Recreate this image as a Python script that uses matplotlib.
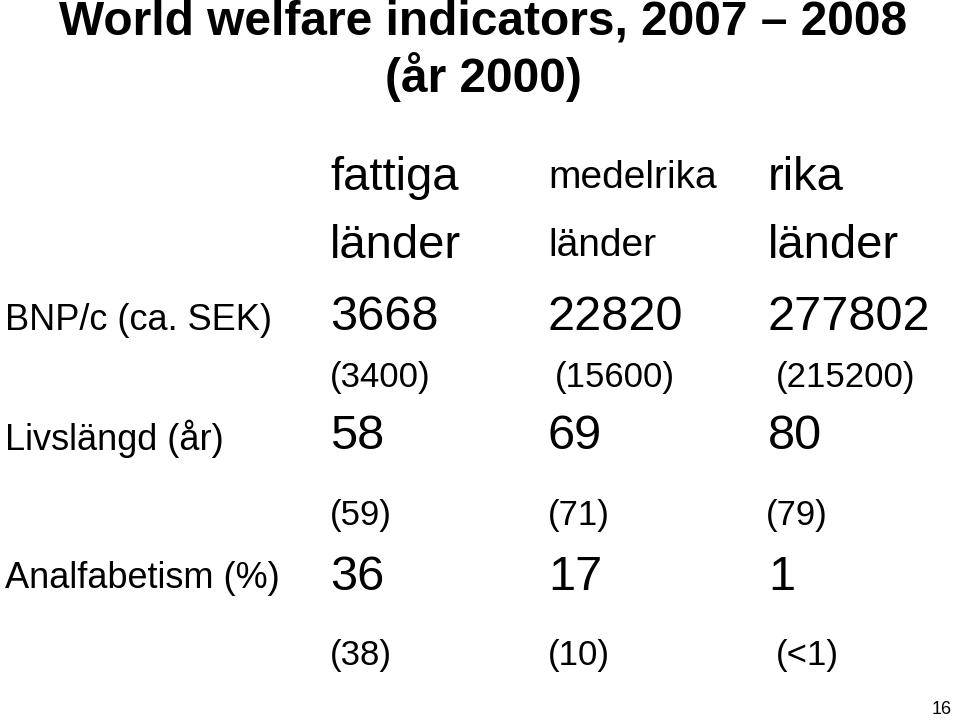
import matplotlib
matplotlib.use("Agg")
import matplotlib.pyplot as plt

plt.rcParams["font.family"] = "Liberation Sans"

title_line1 = "World welfare indicators, 2007 \u2013 2008"
title_line2 = "(år 2000)"
groups_top = ["fattiga", "medelrika", "rika"]
groups_bottom = ["länder", "länder", "länder"]
indicators = ["BNP/c (ca. SEK)", "Livslängd (år)", "Analfabetism (%)"]
values_now = [["3668", "22820", "277802"], ["58", "69", "80"], ["36", "17", "1"]]
values_2000 = [["(3400)", "(15600)", "(215200)"], ["(59)", "(71)", "(79)"],
               ["(38)", "(10)", "(<1)"]]
page_no = "16"

W, H = 959, 721
fig = plt.figure(figsize=(W / 100, H / 100), dpi=100)

def put(x, y, s, size, **kw):
    fig.text(x / W, 1 - y / H, s, fontsize=size, va="center", **kw)

put(483, 22, title_line1, 34.5, ha="center", weight="bold")
put(483, 77, title_line2, 34.5, ha="center", weight="bold")

col_x = [330, 548, 768]
head_size = [34, 28, 34]
for i, x in enumerate(col_x):
    put(x, 178, groups_top[i], head_size[i])
    put(x, 246, groups_bottom[i], head_size[i])

row_y = [318, 437, 577]
sub_y = [377, 515, 655]
sub_x = [[330, 555, 776], [330, 548, 766], [330, 548, 776]]
for r, name in enumerate(indicators):
    put(5, row_y[r] + 2, name, 26)
    for c, x in enumerate(col_x):
        put(x, row_y[r], values_now[r][c], 35)
        put(sub_x[r][c], sub_y[r], values_2000[r][c], 25)

put(952, 710, page_no, 13, ha="right")

fig.savefig("out.png", dpi=100)
